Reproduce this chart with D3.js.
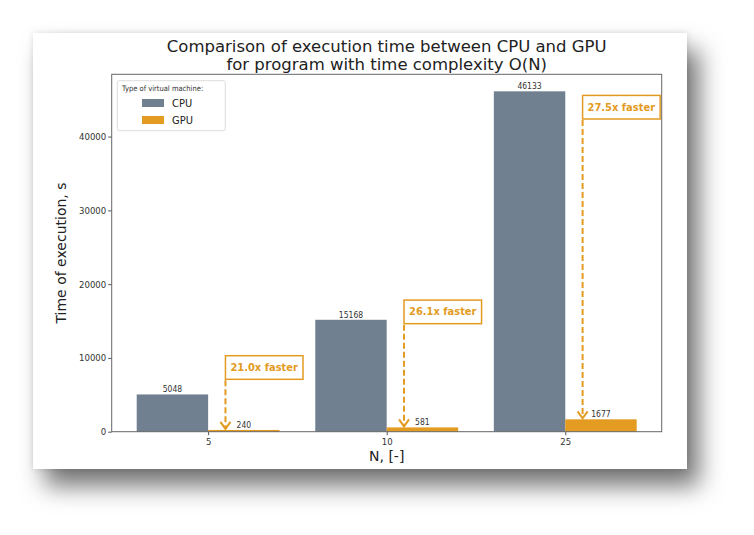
<!DOCTYPE html>
<html><head><meta charset="utf-8">
<script src="https://cdn.jsdelivr.net/npm/d3@7"></script>
<style>
html,body{margin:0;padding:0;background:#fff;}
svg{display:block;font-family:"DejaVu Sans",sans-serif;}
</style></head>
<body><svg id="c" width="754" height="535"></svg>
<script>
const categories = ["5", "10", "25"];
const cpuValues = [5048, 15168, 46133];
const gpuValues = [240, 581, 1677];
const speedupLabels = ["21.0x faster", "26.1x faster", "27.5x faster"];
const speedupLabelY = [8700, 16240, 43980];
const yTicks = [0, 10000, 20000, 30000, 40000];
const seriesNames = ["CPU", "GPU"];

const cpuColor = "#708090", gpuColor = "#E39B22";
const svg = d3.select("#c");
const defs = svg.append("defs");
const f = defs.append("filter").attr("id","sh").attr("x","-20%").attr("y","-20%").attr("width","150%").attr("height","150%");
f.append("feDropShadow").attr("dx",12).attr("dy",17).attr("stdDeviation",12).attr("flood-color","#000").attr("flood-opacity",0.55);
const f2 = defs.append("filter").attr("id","sh2").attr("x","-10%").attr("y","-10%").attr("width","120%").attr("height","120%");
f2.append("feDropShadow").attr("dx",0).attr("dy",0).attr("stdDeviation",3).attr("flood-color","#000").attr("flood-opacity",0.12);

svg.append("rect").attr("x",33).attr("y",33).attr("width",654).attr("height",436).attr("fill","#fff").attr("filter","url(#sh)");
svg.append("rect").attr("x",33).attr("y",33).attr("width",654).attr("height",436).attr("fill","#fff").attr("filter","url(#sh2)");

const L = 111.7, R = 661.7, T = 74.3, B = 431.7;
const x = d3.scaleLinear().domain([-0.54, 2.54]).range([L, R]);
const yMax = d3.max(cpuValues.concat(gpuValues)) * 1.05;
const y = d3.scaleLinear().domain([0, yMax]).range([B, T]);
const bw = 0.4;

const g = svg.append("g");
categories.forEach((c, i) => {
  g.append("rect").attr("x", x(i - bw)).attr("width", x(i) - x(i - bw))
    .attr("y", y(cpuValues[i])).attr("height", y(0) - y(cpuValues[i])).attr("fill", cpuColor);
  g.append("rect").attr("x", x(i)).attr("width", x(i + bw) - x(i))
    .attr("y", y(gpuValues[i])).attr("height", y(0) - y(gpuValues[i])).attr("fill", gpuColor);
  g.append("text").attr("x", x(i - bw/2)).attr("y", y(cpuValues[i]) - 2).attr("text-anchor","middle")
    .attr("font-size", 8.5).attr("font-family","DejaVu Sans Condensed").attr("fill","#333").text(cpuValues[i]);
  g.append("text").attr("x", x(i + bw/2)).attr("y", y(gpuValues[i]) - 2).attr("text-anchor","middle")
    .attr("font-size", 8.5).attr("font-family","DejaVu Sans Condensed").attr("fill","#333").text(gpuValues[i]);
});

const yAxis = d3.axisLeft(y).tickValues(yTicks).tickFormat(d3.format("d")).tickSize(3.5).tickPadding(2);
const ya = svg.append("g").attr("transform",`translate(${L},0)`).call(yAxis);
const xAxis = d3.axisBottom(x).tickValues(d3.range(categories.length)).tickFormat(i => categories[i]).tickSize(3.5).tickPadding(3);
const xa = svg.append("g").attr("transform",`translate(0,${B})`).call(xAxis);
[ya, xa].forEach(a => {
  a.select(".domain").remove();
  a.selectAll(".tick line").attr("stroke","#555");
  a.selectAll(".tick text").attr("font-size", 9.5).attr("fill","#333").attr("font-family","DejaVu Sans Condensed");
});
svg.append("rect").attr("x",L).attr("y",T).attr("width",R-L).attr("height",B-T)
  .attr("fill","none").attr("stroke","#666").attr("stroke-width",1);

const ax = 0.097;
categories.forEach((c, i) => {
  const xx = x(i + ax);
  const ag = svg.append("g");
  const t = ag.append("text").attr("x", xx + 5).attr("y", y(speedupLabelY[i])).attr("dominant-baseline","central")
    .attr("font-size", 11).attr("font-weight","bold").attr("font-family","DejaVu Sans Condensed")
    .attr("fill", gpuColor).text(speedupLabels[i]);
  const bb = t.node().getBBox();
  const bx = xx, by = y(speedupLabelY[i]) - 11.8, bwid = bb.width + 10, bh = 23.6;
  ag.insert("rect","text").attr("x", bx).attr("y", by).attr("width", bwid).attr("height", bh)
    .attr("fill","#fff").attr("stroke", gpuColor).attr("stroke-width", 1.5);
  const tipY = y(gpuValues[i]) - 1;
  ag.append("line").attr("x1", xx).attr("x2", xx).attr("y1", by + bh + 1).attr("y2", tipY - 1)
    .attr("stroke", gpuColor).attr("stroke-width", 2).attr("stroke-dasharray","6,3");
  ag.append("path").attr("d", `M${xx-5},${tipY-7} L${xx},${tipY} L${xx+5},${tipY-7}`)
    .attr("fill","none").attr("stroke", gpuColor).attr("stroke-width", 2);
});

const lg = svg.append("g");
lg.append("rect").attr("x",117.3).attr("y",80.7).attr("width",108).attr("height",50).attr("rx",2)
  .attr("fill","#fff").attr("stroke","#ddd").attr("stroke-width",1);
lg.append("text").attr("x",122).attr("y",90.5).attr("font-size",7.5).attr("font-family","DejaVu Sans Condensed")
  .attr("fill","#333").text("Type of virtual machine:");
[cpuColor, gpuColor].forEach((col, k) => {
  const yy = 103 + k * 17;
  lg.append("rect").attr("x",142).attr("y",yy-4).attr("width",22).attr("height",8).attr("fill",col);
  lg.append("text").attr("x",172).attr("y",yy).attr("dominant-baseline","central").attr("font-size",11)
    .attr("font-family","DejaVu Sans Condensed").attr("fill","#222").text(seriesNames[k]);
});

svg.append("text").attr("x",(L+R)/2).attr("y",52).attr("text-anchor","middle").attr("font-size",16.5).attr("fill","#222")
  .text("Comparison of execution time between CPU and GPU");
svg.append("text").attr("x",(L+R)/2).attr("y",70).attr("text-anchor","middle").attr("font-size",16.5).attr("fill","#222")
  .text("for program with time complexity O(N)");
svg.append("text").attr("transform",`translate(66,${(T+B)/2}) rotate(-90)`).attr("text-anchor","middle")
  .attr("font-size",14).attr("fill","#222").text("Time of execution, s");
svg.append("text").attr("x",(L+R)/2).attr("y",461).attr("text-anchor","middle").attr("font-size",14).attr("fill","#222")
  .text("N, [-]");
</script></body></html>
